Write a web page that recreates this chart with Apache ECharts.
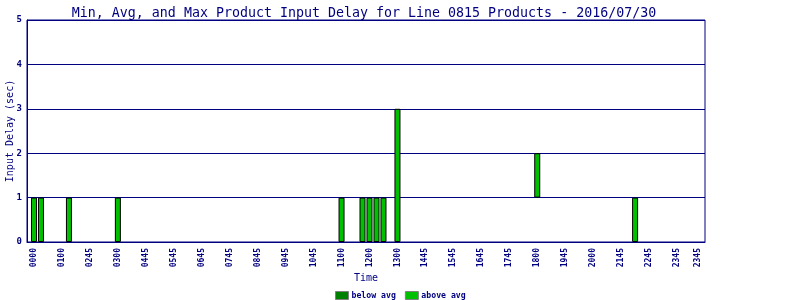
<!DOCTYPE html>
<html><head><meta charset="utf-8">
<script src="https://cdn.jsdelivr.net/npm/echarts@6/dist/echarts.min.js"></script>
<style>html,body{margin:0;padding:0;background:#fff}#c{width:800px;height:300px}</style>
</head><body><div id="c"></div>
<script>
// Time slots (15-minute slots, 0..95) that have products
const slots = [0, 1, 5, 12, 44, 47, 48, 49, 50, 52, 72, 86];
const minDelay = [0, 0, 0, 0, 0, 0, 0, 0, 0, 0, 1, 0];
const avgDelay = [0, 0, 0, 0, 0, 0, 0, 0, 0, 0, 1, 0];
const maxDelay = [1, 1, 1, 1, 1, 1, 1, 1, 1, 3, 2, 1];
// tick labels as printed on the x axis, and the slot each is printed at
const tickLabels = ['0000','0100','0245','0300','0445','0545','0645','0745','0845','0945','1045','1100','1200','1300','1445','1545','1645','1745','1800','1945','2000','2145','2245','2345','2345'];
const tickSlots = [0,4,8,12,16,20,24,28,32,36,40,44,48,52,56,60,64,68,72,76,80,84,88,92,95];
const yTicks = [0, 1, 2, 3, 4, 5];

const NAVY = '#000080';
const FONT = 'DejaVu Sans Mono';
const NSLOT = 96;
// categories: one padding slot at each end
const cats = [];
for (let j = 0; j < NSLOT + 2; j++) cats.push(String(j - 1));
const labelMap = {};
tickSlots.forEach((s, i) => { labelMap[s + 1] = tickLabels[i]; });

const base = cats.map(() => '-');
const below = cats.map(() => '-');
const above = cats.map(() => '-');
slots.forEach((s, i) => {
  const j = s + 1;
  base[j] = minDelay[i];
  const b = avgDelay[i] - minDelay[i];
  below[j] = b > 0 ? b : '-';
  above[j] = maxDelay[i] - avgDelay[i];
});

const chart = echarts.init(document.getElementById('c'), null, {renderer: 'canvas'});
chart.setOption({
  animation: false,
  backgroundColor: '#fff',
  title: {
    text: 'Min, Avg, and Max Product Input Delay for Line 0815 Products - 2016/07/30',
    left: 359, top: 2, textAlign: 'center',
    textStyle: {fontFamily: FONT, fontSize: 13.3, fontWeight: 'normal', color: NAVY}
  },
  legend: {
    data: [
      {name: 'below avg', itemStyle: {color: '#008000', borderColor: '#808080', borderWidth: 1}},
      {name: 'above avg', itemStyle: {color: '#00c000', borderColor: '#808080', borderWidth: 1}}
    ],
    left: 335, top: 291, itemWidth: 13, itemHeight: 8, itemGap: 9, padding: 0,
    icon: 'rect',
    textStyle: {fontFamily: FONT, fontSize: 8.2, fontWeight: 'bold', color: NAVY, padding: [0, 0, 0, -2]}
  },
  grid: {left: 27, right: 95, top: 20, bottom: 58, show: true, borderColor: NAVY, borderWidth: 1,
         containLabel: false, outerBoundsMode: 'none'},
  xAxis: {
    type: 'category', data: cats, boundaryGap: false,
    name: 'Time', nameLocation: 'middle', nameGap: 31, nameMoveOverlap: false,
    nameTextStyle: {fontFamily: FONT, fontSize: 10, color: NAVY},
    axisLine: {lineStyle: {color: NAVY}}, axisTick: {show: false},
    axisLabel: {
      rotate: 90, margin: 6, fontFamily: FONT, fontSize: 8, fontWeight: 'bold', color: NAVY,
      interval: (idx) => labelMap[idx] !== undefined,
      formatter: (v, idx) => labelMap[idx] || '', hideOverlap: false
    },
    splitLine: {show: false}
  },
  yAxis: {
    type: 'value', min: yTicks[0], max: yTicks[yTicks.length - 1], interval: 1,
    name: 'Input Delay (sec)', nameLocation: 'middle', nameGap: 12, nameMoveOverlap: false,
    nameTextStyle: {fontFamily: FONT, fontSize: 10, color: NAVY},
    axisLine: {show: true, lineStyle: {color: NAVY}}, axisTick: {show: false},
    axisLabel: {margin: 5, fontFamily: FONT, fontSize: 9, fontWeight: 'bold', color: NAVY},
    splitLine: {show: true, lineStyle: {color: NAVY, width: 1}}
  },
  series: [
    {name: 'base', type: 'bar', stack: 's', data: base, barWidth: 6,
     itemStyle: {color: 'rgba(0,0,0,0)', borderWidth: 0}, silent: true},
    {name: 'below avg', type: 'bar', stack: 's', data: below, barWidth: 6,
     itemStyle: {color: '#008000', borderColor: '#000', borderWidth: 1}},
    {name: 'above avg', type: 'bar', stack: 's', data: above, barWidth: 6,
     itemStyle: {color: '#00c000', borderColor: '#000', borderWidth: 1}}
  ]
});
</script></body></html>
